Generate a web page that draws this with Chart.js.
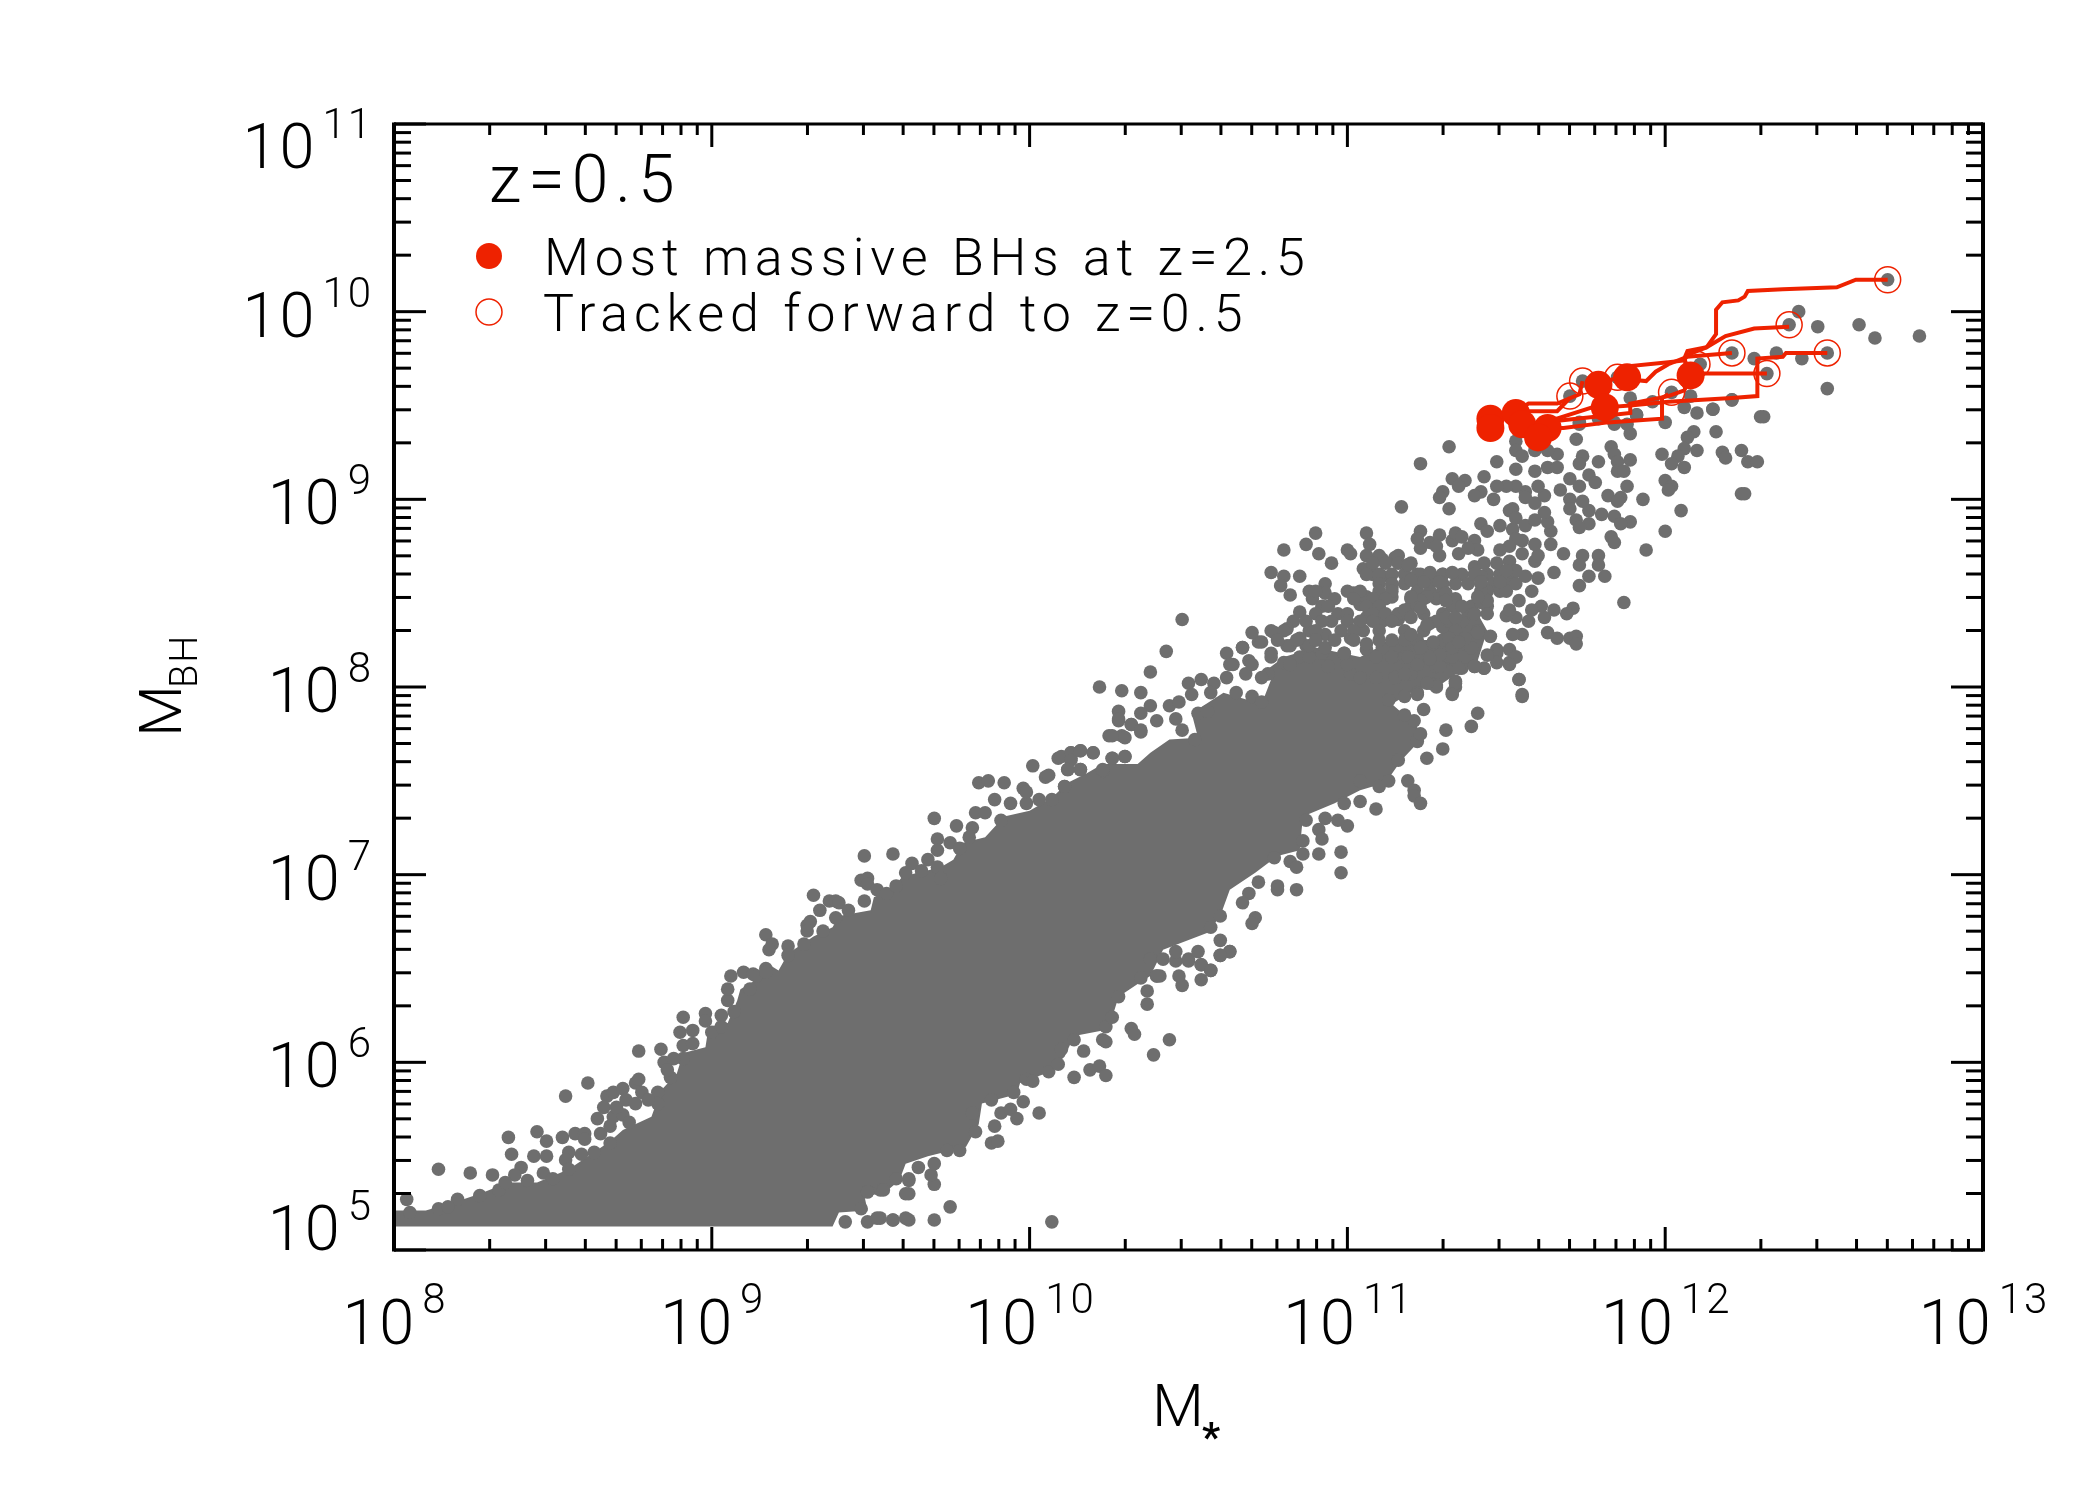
<!DOCTYPE html>
<html>
<head>
<meta charset="utf-8">
<title>MBH vs Mstar</title>
<script src="https://cdn.jsdelivr.net/npm/chart.js@4"></script>
<style>
  html, body { margin: 0; padding: 0; background: #fff; }
  canvas { display: block; }
</style>
</head>
<body>
<canvas id="chart" width="2100" height="1500"></canvas>
<script>
// all values below are [log10 Mstar, log10 MBH]
const xDecades = [8, 9, 10, 11, 12, 13];
const yDecades = [5, 6, 7, 8, 9, 10, 11];
const minorSteps = [2, 3, 4, 5, 6, 7, 8, 9];

// outline of the region where the points merge into a solid mass
const denseCore = [
  [8.00,5.125],[8.00,5.21],[8.10,5.21],[8.20,5.26],[8.27,5.30],[8.36,5.36],[8.45,5.36],[8.55,5.43],[8.62,5.51],[8.68,5.58],
  [8.72,5.64],[8.81,5.71],[8.84,5.85],[8.89,5.94],[8.91,6.05],[8.98,6.08],[8.99,6.19],[9.05,6.21],[9.08,6.33],[9.09,6.39],
  [9.14,6.44],[9.19,6.51],[9.21,6.49],[9.24,6.58],[9.32,6.67],[9.38,6.72],[9.40,6.78],[9.50,6.81],[9.51,6.88],[9.57,6.93],
  [9.60,6.99],[9.72,7.04],[9.76,7.08],[9.79,7.17],[9.86,7.20],[9.92,7.31],[10.00,7.34],[10.07,7.41],[10.12,7.49],[10.18,7.54],
  [10.23,7.59],[10.32,7.59],[10.34,7.59],[10.38,7.65],[10.44,7.72],[10.53,7.73],[10.51,7.86],[10.61,7.97],[10.73,7.91],[10.76,8.04],
  [10.73,8.07],[10.80,8.16],[10.90,8.21],[11.04,8.16],[11.14,8.25],[11.28,8.25],[11.33,8.37],[11.41,8.39],[11.44,8.30],[11.41,8.14],
  [11.36,8.09],[11.30,8.02],[11.21,7.98],[11.14,7.91],[11.22,7.79],[11.22,7.70],[11.17,7.61],[11.12,7.49],[11.04,7.45],[10.96,7.38],
  [10.86,7.31],[10.85,7.13],[10.78,7.10],[10.71,7.01],[10.63,6.92],[10.60,6.78],[10.56,6.69],[10.42,6.60],[10.38,6.46],[10.36,6.44],
  [10.28,6.35],[10.26,6.24],[10.23,6.17],[10.14,6.14],[10.11,6.03],[10.05,5.94],[9.97,5.89],[9.96,5.83],[9.85,5.78],[9.84,5.67],
  [9.80,5.55],[9.68,5.50],[9.61,5.46],[9.59,5.37],[9.54,5.30],[9.48,5.29],[9.49,5.21],[9.40,5.20],[9.38,5.125]
];

const fieldLow = [
  [8.04,5.27],[8.14,5.43],[8.24,5.41],[8.31,5.40],[8.36,5.60],[8.45,5.63],[8.48,5.58],[8.37,5.51],[8.44,5.50],[8.48,5.50],
  [8.40,5.44],[8.38,5.40],[8.47,5.41],[8.42,5.37],[8.50,5.38],[8.53,5.60],[8.57,5.62],[8.60,5.62],[8.60,5.59],[8.55,5.52],
  [8.54,5.48],[8.59,5.51],[8.55,5.43],[8.54,5.82],[8.61,5.89],[8.65,5.62],[8.64,5.70],[8.67,5.82],[8.69,5.84],[8.72,5.86],
  [8.66,5.76],[8.69,5.71],[8.73,5.80],[8.76,5.89],[8.77,5.91],[8.78,5.84],[8.77,6.06],[8.84,6.07],[8.85,6.00],[8.83,5.84],
  [8.83,5.78],[8.87,5.92],[8.91,6.24],[8.98,6.26],[8.90,6.16],[8.91,6.09],[8.94,6.17],[8.98,6.22],[8.91,6.02],[9.03,6.25],
  [9.05,6.33],[9.05,6.39],[9.06,6.46],[9.10,6.48],[9.13,6.47],[9.17,6.50],[8.20,5.27],[8.27,5.29],[8.14,5.22],[8.33,5.32],
  [8.35,5.36],[8.05,5.20],[8.17,5.23],[8.63,5.52],[8.68,5.57],[9.47,5.22],[9.53,5.17],[9.62,5.16],[9.57,5.16],[9.49,5.15],
  [9.42,5.15],[9.62,5.37],[9.62,5.30],[9.58,5.38],[9.53,5.32],[9.49,5.31],[8.68,5.66],[8.72,5.72],[8.76,5.78],[8.80,5.80],
  [8.74,5.68],[8.70,5.76],[8.88,6.02],[8.86,5.96],[8.94,6.10],[9.00,6.16],[9.03,6.19],[9.07,6.27],[9.12,6.39]
];

const fieldLowerEdge = [
  [10.07,5.15],[9.70,5.16],[9.75,5.23],[9.61,5.17],[9.57,5.16],[9.52,5.17],[9.61,5.30],[9.62,5.38],[9.70,5.35],[9.69,5.40],
  [9.70,5.46],[9.65,5.44],[9.54,5.32],[9.49,5.31],[9.78,5.53],[9.74,5.53],[9.83,5.63],[9.88,5.57],[9.90,5.58],[9.89,5.66],
  [9.91,5.73],[9.94,5.75],[9.96,5.70],[10.03,5.73],[9.98,5.79],[9.95,5.84],[9.88,5.80],[9.82,5.73],[9.99,5.91],[10.01,5.90],
  [10.06,5.95],[10.09,5.99],[10.14,5.92],[10.19,5.96],[10.22,5.98],[10.24,5.93],[10.17,6.06],[10.10,6.07],[10.14,6.12],[10.39,6.04],
  [10.44,6.12],[10.32,6.18],[10.33,6.15],[10.23,6.12],[10.24,6.11],[10.24,6.19],[10.26,6.24],[10.28,6.35],[10.37,6.38],[10.37,6.31],
  [10.35,6.45],[10.40,6.46],[10.41,6.46],[10.48,6.41],[10.47,6.46],[10.54,6.44],[10.57,6.49],[10.54,6.52],[10.50,6.55],[10.46,6.54],
  [10.60,6.57],[10.63,6.59],[10.38,6.55],[10.42,6.55]
];

const fieldUpperEdge = [
  [9.14,6.46],[9.17,6.68],[9.19,6.63],[9.18,6.60],[9.17,6.48],[9.24,6.62],[9.24,6.57],[9.29,6.63],[9.32,6.89],[9.34,6.81],
  [9.37,6.86],[9.39,6.86],[9.40,6.85],[9.43,6.81],[9.39,6.77],[9.30,6.73],[9.31,6.75],[9.30,6.70],[9.35,6.70],[9.48,7.10],
  [9.57,7.11],[9.47,6.97],[9.49,6.98],[9.49,6.95],[9.48,6.86],[9.52,6.92],[9.55,6.90],[9.58,6.94],[9.61,7.01],[9.63,7.06],
  [9.68,7.08],[9.66,7.02],[9.71,7.04],[9.72,6.98],[9.70,7.30],[9.77,7.26],[9.82,7.25],[9.81,7.20],[9.71,7.19],[9.71,7.13],
  [9.75,7.17],[9.78,7.14],[9.83,7.33],[9.86,7.33],[9.84,7.49],[9.87,7.50],[9.92,7.49],[9.89,7.40],[9.94,7.38],[9.91,7.29],
  [9.98,7.46],[9.99,7.38],[9.99,7.44],[10.01,7.58],[10.05,7.52],[10.03,7.40],[10.07,7.40],[10.11,7.47],[10.09,7.62],[10.13,7.65],
  [10.16,7.66],[10.20,7.65],[10.13,7.62],[10.12,7.56],[10.16,7.56],[10.23,7.55],[10.26,7.62],[10.30,7.63],[10.25,7.74],[10.29,7.74],
  [10.28,7.82],[10.32,7.80],[10.35,7.76]
];

const fieldMid = [
  [10.43,8.19],[10.38,8.08],[10.22,8.00],[10.29,7.98],[10.35,7.97],[10.38,7.90],[10.35,7.86],[10.28,7.87],[10.28,7.83],[10.32,7.80],
  [10.35,7.77],[10.26,7.74],[10.30,7.73],[10.44,7.90],[10.47,7.92],[10.40,7.82],[10.46,7.83],[10.48,7.77],[10.52,7.72],[10.50,8.02],
  [10.54,8.04],[10.58,8.02],[10.51,7.96],[10.57,7.97],[10.62,8.18],[10.64,8.12],[10.62,8.05],[10.67,8.21],[10.69,8.14],[10.72,8.24],
  [10.76,8.18],[10.80,8.13],[10.81,8.22],[10.87,8.22],[10.85,8.16],[10.75,8.07],[10.68,8.07],[10.10,7.63],[10.13,7.65],[10.16,7.66],
  [10.20,7.65],[10.13,7.61],[10.12,7.56],[10.16,7.56],[10.26,7.62],[10.30,7.63],[10.11,7.47],[10.06,7.53],[10.23,7.56],[10.53,7.86],
  [10.56,7.87],[10.65,7.97],[10.70,7.95],[10.73,7.92],[10.92,8.18],[10.99,8.18],[11.01,8.07],[11.06,8.20],[11.11,8.21],[11.22,8.21],
  [11.27,8.23],[11.29,8.17],[11.33,8.15],[11.36,8.10],[11.28,8.01],[11.34,8.03],[11.33,7.97],[11.24,7.88],[11.22,7.97],[11.18,7.95],
  [11.13,7.93],[11.40,8.11],[11.43,8.10],[11.51,8.13],[11.53,8.16],[11.47,8.18],[11.54,8.04],[11.55,7.95],[11.41,7.86],[11.39,7.79],
  [11.31,7.77],[11.30,7.67],[11.25,7.62],[11.19,7.50],[11.21,7.45],[11.21,7.42],[11.23,7.38],[11.09,7.35],[11.00,7.26],[11.04,7.39],
  [10.99,7.38],[10.97,7.29],[10.93,7.30],[10.91,7.24],[10.92,7.19],[10.91,7.11],[10.98,7.12],[10.98,7.01],[10.87,7.29],[10.86,7.18],
  [10.86,7.11],[10.82,7.07],[10.84,7.04],[10.78,6.94],[10.78,6.92],[10.84,6.92],[10.77,7.09],[10.72,6.96],[10.69,6.90],[10.67,6.85],
  [10.71,6.77],[10.70,6.74],[10.60,6.78],[10.57,6.72],[10.60,6.65],[10.63,6.59],[10.60,6.57],[10.53,6.59],[10.50,6.54],[10.54,6.52],
  [10.57,6.49],[10.46,6.59],[10.40,6.46],[11.04,7.50],[11.10,7.47],[11.13,7.50],[11.16,7.61],[11.22,7.71],[11.23,7.75],[11.21,7.82],
  [11.18,7.85],[11.09,8.16],[11.14,8.16],[11.18,8.16],[11.04,8.05],[11.09,8.05],[11.15,8.05],[11.20,8.07],[11.00,8.12],[10.94,8.11],
  [10.88,8.16],[10.82,8.12],[10.76,8.16],[10.70,8.12],[10.73,8.05],[10.63,8.12]
];

const fieldBranch = [
  [10.80,8.73],[10.87,8.76],[10.90,8.82],[10.91,8.71],[10.95,8.66],[11.00,8.73],[11.01,8.71],[11.06,8.82],[11.07,8.76],[11.11,8.68],
  [11.15,8.69],[11.05,8.63],[11.08,8.60],[11.19,8.65],[10.76,8.61],[10.80,8.59],[10.85,8.59],[10.79,8.54],[10.82,8.49],[10.88,8.51],
  [10.93,8.55],[10.93,8.50],[10.89,8.47],[11.02,8.50],[11.04,8.44],[11.06,8.48],[11.11,8.59],[11.14,8.53],[11.09,8.47],[11.14,8.48],
  [10.92,8.43],[10.97,8.39],[10.95,8.35],[10.85,8.40],[10.83,8.35],[10.81,8.31],[10.77,8.29],[10.70,8.29],[10.88,8.30],[10.85,8.26],
  [10.88,8.22],[10.93,8.28],[10.93,8.21],[10.48,8.36],[11.01,8.26],[11.06,8.37],[11.05,8.30],[11.11,8.35],[11.16,8.36],[11.18,8.39],
  [10.73,8.24],[10.67,8.21],[10.82,8.22],[10.99,8.18],[11.06,8.23],[11.14,8.25],[11.27,8.23],[11.30,8.32],[11.26,8.34],[11.33,8.43],
  [11.38,8.39],[11.41,8.30],[11.36,8.23],[11.32,8.16],[11.28,8.11],[11.26,8.02],[11.34,8.00]
];

// the crowded patch below 10^9, read row by row
const fieldCrowded = [
  [11.06,8.70],[11.10,8.70],[11.16,8.70],[11.08,8.66],[11.12,8.66],[11.16,8.66],[11.20,8.66],
  [11.06,8.60],[11.10,8.60],[11.14,8.60],[11.18,8.60],[11.22,8.60],[11.26,8.60],[11.30,8.60],[11.36,8.60],[11.44,8.60],[11.48,8.60],[11.52,8.60],
  [11.10,8.55],[11.14,8.55],[11.18,8.55],[11.22,8.55],[11.26,8.55],[11.30,8.55],[11.34,8.55],[11.38,8.55],[11.42,8.55],[11.46,8.55],[11.50,8.55],
  [10.90,8.51],[11.00,8.51],[11.04,8.51],[11.10,8.51],[11.14,8.51],[11.22,8.51],[11.26,8.51],[11.30,8.51],[11.44,8.51],[11.48,8.51],
  [10.96,8.47],[11.02,8.47],[11.08,8.47],[11.12,8.47],[11.20,8.47],[11.24,8.47],[11.28,8.47],[11.34,8.47],
  [10.94,8.43],[11.06,8.43],[11.10,8.43],[11.20,8.43],[11.34,8.43],[11.44,8.43],
  [10.90,8.39],[11.00,8.39],[11.08,8.39],[11.12,8.39],[11.16,8.39],[11.24,8.39],[11.30,8.39],[11.38,8.39],
  [10.87,8.35],[10.92,8.35],[11.00,8.35],[11.04,8.35],[11.08,8.35],[11.14,8.35],[11.28,8.35],[11.32,8.35],[11.36,8.35],
  [10.76,8.30],[10.80,8.30],[10.90,8.30],[10.98,8.30],[11.02,8.30],[11.10,8.30],[11.18,8.30],[11.24,8.30],[11.34,8.30],
  [10.78,8.25],[10.84,8.25],[10.90,8.25],[10.96,8.25],[11.02,8.25],[11.10,8.25],[11.18,8.25],[11.22,8.25],[11.30,8.25]
];

const fieldHigh = [
  [11.32,9.28],[11.23,9.19],[11.47,9.20],[11.53,9.16],[11.59,9.15],[11.63,9.17],[11.66,9.17],[11.66,9.24],[11.53,9.31],[11.53,9.26],
  [11.55,9.23],[11.59,9.26],[11.63,9.26],[11.72,9.32],[11.74,9.23],[11.73,9.19],[11.79,9.20],[11.83,9.28],[11.84,9.24],[11.85,9.20],
  [11.85,9.15],[11.87,9.15],[11.89,9.21],[11.89,9.35],[11.88,9.40],[12.00,9.41],[11.84,9.40],[11.73,9.40],[11.79,9.43],[11.91,9.45],
  [12.06,9.49],[12.10,9.46],[12.15,9.48],[12.21,9.53],[12.31,9.44],[12.09,9.36],[12.07,9.33],[12.16,9.36],[12.06,9.27],[12.10,9.26],
  [12.04,9.23],[11.99,9.24],[12.02,9.19],[12.06,9.17],[12.18,9.25],[12.19,9.22],[12.24,9.26],[12.26,9.20],[12.29,9.20],[12.24,9.03],
  [12.25,9.03],[12.00,9.10],[12.02,9.07],[12.01,9.05],[11.93,9.00],[12.05,8.94],[12.00,8.83],[11.94,8.73],[11.88,9.07],[11.82,9.02],
  [11.86,9.01],[11.85,8.99],[11.80,8.92],[11.84,8.91],[11.89,8.88],[11.86,8.87],[11.76,8.94],[11.76,8.87],[11.72,8.89],[11.73,8.85],
  [11.70,9.00],[11.70,8.95],[11.74,8.99],[11.73,9.07],[11.70,9.11],[11.67,9.05],[11.76,9.13],[11.78,9.09],[11.83,8.80],[11.84,8.77],
  [11.74,8.70],[11.73,8.65],[11.79,8.70],[11.79,8.65],[11.81,8.59],[11.76,8.59],[11.73,8.54],[11.68,8.71],[11.65,8.61],[11.87,8.45],
  [11.71,8.42],[11.69,8.39],[11.65,8.41],[11.62,8.37],[11.61,8.43],[11.58,8.41],[11.54,8.46],[11.58,8.51],[11.63,8.29],[11.66,8.26],
  [11.70,8.26],[11.72,8.27],[11.72,8.23],[11.55,8.28],[11.52,8.28],[11.57,8.35],[11.53,8.37],[11.50,8.38],[11.51,8.41],[11.44,8.39],
  [11.39,8.43],[11.45,8.27],[11.47,8.20],[11.51,8.20],[11.53,8.16],[11.51,8.12],[11.47,8.13],[11.43,8.10],[11.40,8.11],[11.44,8.17],
  [11.54,8.04],[11.55,7.96],[11.34,8.02],[11.33,7.96],[11.28,8.00],[11.25,8.02],[11.22,7.96],[11.35,8.10],[11.33,8.16],[11.29,8.11],
  [11.29,8.17],[11.25,8.33],[11.27,8.24],[11.39,8.21],[11.41,8.29],[11.37,8.26],[11.32,8.26],[11.33,8.21],[11.35,8.24],[11.31,8.37],
  [11.34,8.37],[11.36,8.43],[11.42,8.45],[11.44,8.46],[11.40,8.39],[11.42,8.51],[11.42,8.59],[11.40,8.64],[11.40,8.60],[11.50,8.51],
  [11.48,8.56],[11.53,8.55],[11.56,8.59],[11.60,8.58],[11.59,8.67],[11.60,8.70],[11.59,8.76],[11.64,8.76],[11.64,8.83],[11.63,8.88],
  [11.62,8.93],[11.59,8.98],[11.62,9.02],[11.60,9.07],[11.56,9.04],[11.53,9.07],[11.50,9.07],[11.47,9.07],[11.46,9.00],[11.42,9.04],
  [11.40,9.02],[11.43,9.12],[11.33,9.11],[11.37,9.10],[11.35,9.07],[11.30,9.04],[11.29,9.01],[11.32,8.95],[11.17,8.96],[11.56,9.01],
  [11.52,8.95],[11.51,8.94],[11.53,8.90],[11.56,8.86],[11.59,8.89],[11.48,8.86],[11.52,8.84],[11.42,8.87],[11.44,8.83],[11.55,8.78],
  [11.53,8.79],[11.51,8.75],[11.48,8.73],[11.55,8.71],[11.51,8.67],[11.47,8.66],[11.53,8.62],[11.50,8.62],[11.43,8.66],[11.40,8.78],
  [11.41,8.73],[11.35,8.71],[11.38,8.74],[11.23,8.83],[11.22,8.79],[11.23,8.74],[11.26,8.77],[11.29,8.81],[11.29,8.70],[11.28,8.75],
  [11.33,8.78],[11.34,8.82],[11.36,8.80],[11.19,8.65],[11.23,8.60],[11.26,8.61],[11.30,8.60],[11.33,8.61],[11.29,8.56],[11.24,8.56],
  [11.20,8.57],[11.31,8.50],[11.31,8.46],[11.25,8.48],[11.23,8.46],[11.20,8.48],[11.23,8.42],[11.18,8.41],[11.20,8.37],[11.20,8.28],
  [11.23,8.21],[11.19,8.16],[11.22,8.12],[11.18,8.07],[11.26,8.15],[11.42,8.56],[11.41,8.48]
];

const fieldTop = [
  [12.42,10.00],[12.39,9.93],[12.48,9.92],[12.61,9.93],[12.66,9.86],[12.80,9.87],[12.70,10.17],[12.21,9.78],[12.28,9.75],[12.35,9.78],
  [12.43,9.75],[12.51,9.78],[12.51,9.59],[12.32,9.67],[12.21,9.53],[12.30,9.44],[12.15,9.48],[12.08,9.55],[12.11,9.72],[12.02,9.57],
  [11.96,9.52],[11.89,9.54],[11.91,9.45],[11.74,9.63],[11.70,9.55],[11.85,9.65],[11.73,9.41],[11.84,9.41]
];

const startPoints = [
  [11.45,9.43],[11.45,9.38],[11.53,9.46],[11.55,9.40],[11.63,9.38],
  [11.60,9.33],[11.79,9.61],[11.81,9.49],[11.88,9.65],[12.08,9.66]
];

const endPoints = [
  [12.70,10.17],[12.39,9.93],[12.51,9.78],[12.21,9.78],[12.32,9.67],
  [12.10,9.72],[12.02,9.57],[11.85,9.65],[11.74,9.63],[11.70,9.55]
];

const trackA = [[12.70,10.17],[12.60,10.17],[12.54,10.13],[12.37,10.12],[12.26,10.11],[12.25,10.08],[12.23,10.06],[12.18,10.05],[12.16,10.01],[12.16,9.88],[12.13,9.81],[12.07,9.77],[12.06,9.74],[12.01,9.73],[11.89,9.71],[11.88,9.65]];
const trackB = [[12.39,9.92],[12.28,9.91],[12.19,9.87],[12.13,9.81],[12.07,9.79],[12.06,9.75],[12.08,9.66]];
const trackC = [[12.51,9.78],[12.38,9.78],[12.37,9.76],[12.29,9.75],[12.29,9.55],[12.21,9.54],[12.01,9.52],[11.89,9.50],[11.81,9.49]];
const trackD = [[12.32,9.67],[12.08,9.67]];
const trackE = [[12.21,9.78],[12.07,9.76],[12.01,9.72],[11.97,9.68],[11.94,9.63],[11.88,9.64]];
const trackF = [[12.01,9.56],[11.99,9.54],[11.99,9.43],[11.82,9.41],[11.68,9.38],[11.63,9.38]];
const trackG = [[12.10,9.72],[12.06,9.58],[12.01,9.55],[11.89,9.51],[11.89,9.46],[11.67,9.42],[11.55,9.40]];
const trackH = [[11.85,9.65],[11.79,9.61]];
const trackI = [[11.74,9.63],[11.73,9.56],[11.66,9.51],[11.57,9.51],[11.53,9.47]];
const trackJ = [[11.70,9.54],[11.66,9.47],[11.57,9.47],[11.45,9.43]];
const trackK = [[11.77,9.49],[11.66,9.43],[11.60,9.35]];
const allTracks = [trackA, trackB, trackC, trackD, trackE, trackF, trackG, trackH, trackI, trackJ, trackK];

const GREY = "#6e6e6e";
const RED = "#ee2200";
const FONT = "Roboto";

const toXY = (pairs) => pairs.map((p) => ({ x: Math.pow(10, p[0]), y: Math.pow(10, p[1]) }));

const allField = [].concat(fieldLow, fieldLowerEdge, fieldUpperEdge, fieldMid, fieldBranch, fieldCrowded, fieldHigh, fieldTop);

const setFont = (ctx, size, spacing) => {
    ctx.font = "300 " + size + "px " + FONT;
    ctx.letterSpacing = (spacing || 0) + "px";
    ctx.fillStyle = "#000";
    ctx.textBaseline = "alphabetic";
    ctx.textAlign = "left";
};

// IDL style box: ticks point inwards on all four sides
const boxPlugin = {
    id: "box",
    afterDatasetsDraw(chart) {
        const { ctx, chartArea, scales } = chart;
        const { left, right, top, bottom } = chartArea;
        ctx.save();
        ctx.strokeStyle = "#000";
        ctx.lineWidth = 3;
        const seg = (x1, y1, x2, y2) => {
            ctx.beginPath();
            ctx.moveTo(x1, y1);
            ctx.lineTo(x2, y2);
            ctx.stroke();
        };
        xDecades.forEach((d) => {
            const px = scales.x.getPixelForValue(Math.pow(10, d));
            seg(px, bottom, px, bottom - 23);
            seg(px, top, px, top + 23);
            if (d === 13) return;
            minorSteps.forEach((m) => {
                const mx = scales.x.getPixelForValue(m * Math.pow(10, d));
                seg(mx, bottom, mx, bottom - 11);
                seg(mx, top, mx, top + 11);
            });
        });
        yDecades.forEach((d) => {
            const py = scales.y.getPixelForValue(Math.pow(10, d));
            seg(left, py, left + 32, py);
            seg(right, py, right - 32, py);
            if (d === 11) return;
            minorSteps.forEach((m) => {
                const my = scales.y.getPixelForValue(m * Math.pow(10, d));
                seg(left, my, left + 17, my);
                seg(right, my, right - 17, my);
            });
        });
        ctx.lineWidth = 4;
        seg(left, top - 1.5, left, bottom + 1.5);
        seg(right, top - 1.5, right, bottom + 1.5);
        ctx.lineWidth = 3;
        seg(left, top, right, top);
        seg(left, bottom, right, bottom);

        // tick labels
        xDecades.forEach((d) => {
            const px = scales.x.getPixelForValue(Math.pow(10, d));
            const sup = String(d);
            setFont(ctx, 42, 2);
            const supW = ctx.measureText(sup).width;
            setFont(ctx, 63, 2);
            const baseW = ctx.measureText("10").width;
            const x0 = px + 1 - (baseW + 6 + supW) / 2;
            ctx.fillText("10", x0, bottom + 94);
            setFont(ctx, 42, 2);
            ctx.fillText(sup, x0 + baseW + 6, bottom + 63);
        });
        yDecades.forEach((d) => {
            const py = scales.y.getPixelForValue(Math.pow(10, d));
            const sup = String(d);
            let off = 25;
            if (d === 11) off = 44;
            if (d === 5) off = 0;
            setFont(ctx, 42, 2);
            const supW = ctx.measureText(sup).width;
            ctx.fillText(sup, 373 - supW, py + off - 30);
            setFont(ctx, 63, 2);
            const baseW = ctx.measureText("10").width;
            ctx.fillText("10", 373 - supW - 6 - baseW, py + off);
        });

        // axis titles
        setFont(ctx, 60);
        ctx.fillText("M", 1152, 1426);
        ctx.font = "700 40px " + FONT;
        ctx.fillText("*", 1202, 1451);
        ctx.save();
        ctx.translate(181, 737);
        ctx.rotate(-Math.PI / 2);
        setFont(ctx, 60);
        ctx.fillText("M", 0, 0);
        ctx.restore();
        ctx.save();
        ctx.translate(197, 688);
        ctx.rotate(-Math.PI / 2);
        setFont(ctx, 38, 2);
        ctx.fillText("BH", 0, 0);
        ctx.restore();

        // legend
        setFont(ctx, 66, 7);
        ctx.fillText("z=0.5", 489, 202);
        setFont(ctx, 52, 5.8);
        ctx.fillText("Most massive BHs at z=2.5", 544, 275);
        ctx.fillText("Tracked forward to z=0.5", 543, 331);
        ctx.fillStyle = RED;
        ctx.beginPath();
        ctx.arc(489, 256, 13, 0, Math.PI * 2);
        ctx.fill();
        ctx.strokeStyle = RED;
        ctx.lineWidth = 1.5;
        ctx.beginPath();
        ctx.arc(489, 312, 13, 0, Math.PI * 2);
        ctx.stroke();
        ctx.restore();
    },
};

const trackSets = allTracks.map((track) => ({
    data: toXY(track),
    showLine: true,
    borderColor: RED,
    borderWidth: 4,
    pointRadius: 0,
    order: 3,
}));

new Chart(document.querySelector("#chart"), {
    type: "scatter",
    data: {
        datasets: [
            {
                label: "Most massive BHs at z=2.5",
                data: toXY(startPoints),
                pointRadius: 14,
                pointBorderWidth: 0,
                backgroundColor: RED,
                order: 1,
            },
            {
                label: "Tracked forward to z=0.5",
                data: toXY(endPoints),
                pointRadius: 13,
                pointBorderWidth: 1.5,
                pointBorderColor: RED,
                pointBackgroundColor: "rgba(0,0,0,0)",
                order: 2,
            },
            ...trackSets,
            {
                label: "field",
                data: toXY(allField),
                pointRadius: 6.8,
                pointBorderWidth: 0,
                backgroundColor: GREY,
                order: 5,
            },
            {
                label: "dense core",
                data: toXY(denseCore),
                showLine: true,
                fill: "shape",
                borderWidth: 0,
                borderColor: GREY,
                backgroundColor: GREY,
                pointRadius: 0,
                order: 6,
            },
        ],
    },
    options: {
        responsive: false,
        animation: false,
        devicePixelRatio: 1,
        events: [],
        layout: { padding: { left: 394, right: 117, top: 124, bottom: 250 } },
        scales: {
            x: {
                type: "logarithmic",
                min: 1e8,
                max: 1e13,
                grid: { display: false, drawTicks: false },
                border: { display: false },
                ticks: { display: false },
            },
            y: {
                type: "logarithmic",
                min: 1e5,
                max: 1e11,
                grid: { display: false, drawTicks: false },
                border: { display: false },
                ticks: { display: false },
            },
        },
        plugins: {
            legend: { display: false },
            tooltip: { enabled: false },
        },
    },
    plugins: [boxPlugin],
});
</script>
</body>
</html>
